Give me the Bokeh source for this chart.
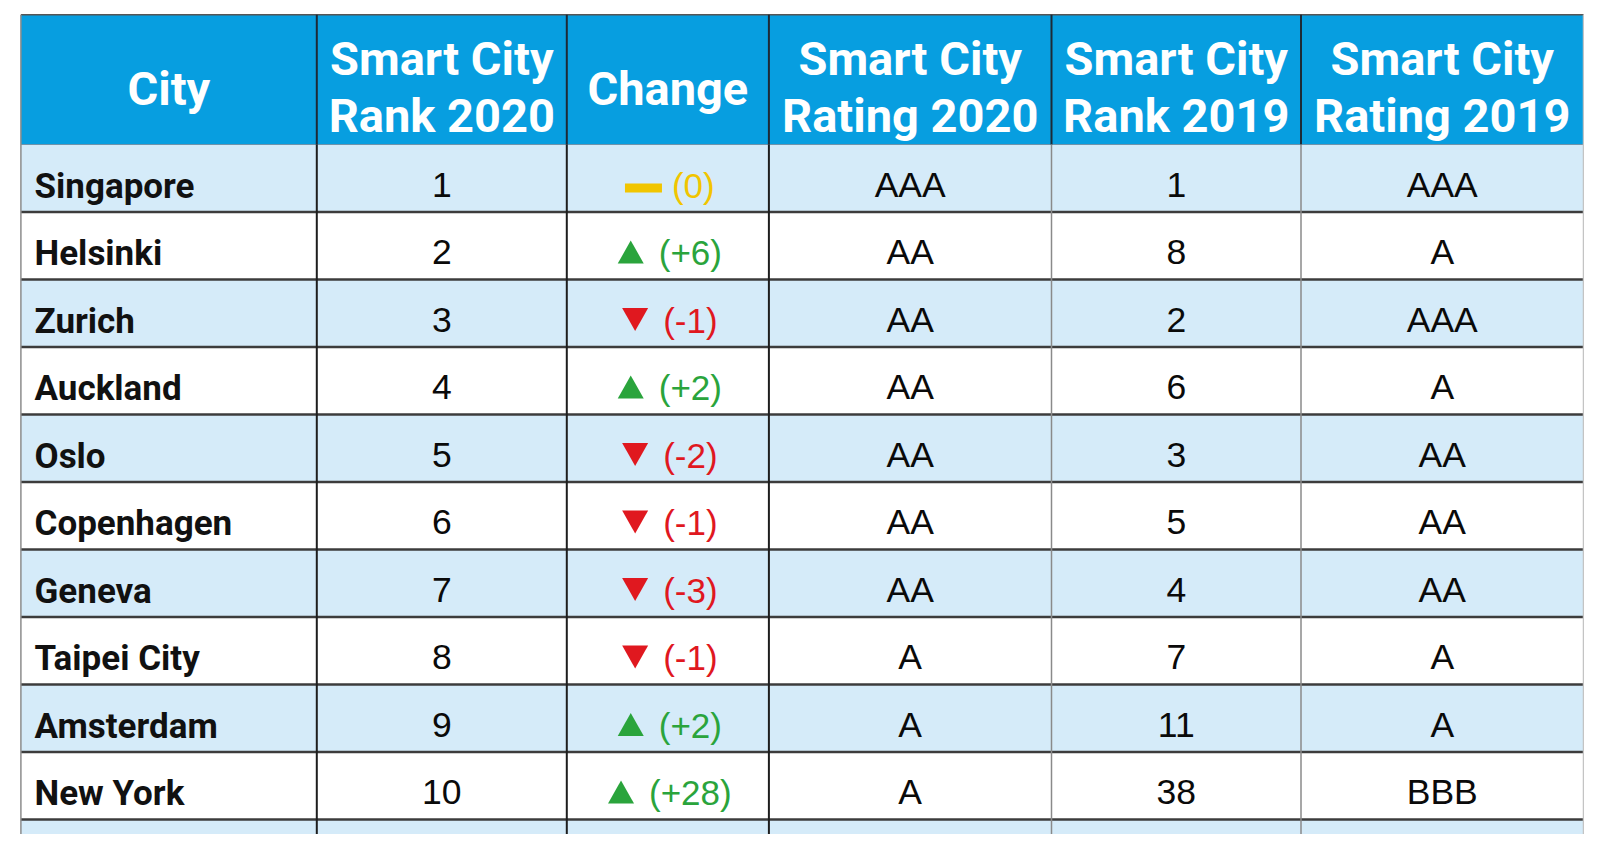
from bokeh.plotting import figure
from bokeh.models import Range1d
from bokeh.embed import file_html
from bokeh.resources import INLINE
from bokeh.core.properties import value

# ---------------- data ----------------
headers = ["City", "Smart City\nRank 2020", "Change", "Smart City\nRating 2020",
           "Smart City\nRank 2019", "Smart City\nRating 2019"]
cities = ["Singapore", "Helsinki", "Zurich", "Auckland", "Oslo", "Copenhagen",
          "Geneva", "Taipei City", "Amsterdam", "New York"]
rank_2020 = [1, 2, 3, 4, 5, 6, 7, 8, 9, 10]
change = [0, 6, -1, 2, -2, -1, -3, -1, 2, 28]
rating_2020 = ["AAA", "AA", "AA", "AA", "AA", "AA", "AA", "A", "A", "A"]
rank_2019 = [1, 8, 2, 6, 3, 5, 4, 7, 11, 38]
rating_2019 = ["AAA", "A", "AAA", "A", "AA", "AA", "AA", "A", "A", "BBB"]

# ---------------- layout / style ----------------
W, H = 1584, 839
col_edges = [20.4, 316.3, 566.3, 768.4, 1051.0, 1300.5, 1583.0]
table_top = 14.3
header_bottom = 144.0
row_h = 67.5
partial_bottom = 833.5

HEADER_BLUE = "#079ee0"
LIGHT_BLUE = "#d5ebf9"
GREEN = "#2aa43c"
RED = "#e0181f"
YELLOW = "#f1c500"

p = figure(width=W, height=H, x_range=Range1d(0, W), y_range=Range1d(H, 0),
           output_backend="svg", toolbar_location=None, x_axis_type=None,
           y_axis_type=None, min_border=0, outline_line_color=None,
           background_fill_color="white", border_fill_color="white")

n = len(cities)
centers = [(col_edges[i] + col_edges[i + 1]) / 2 for i in range(len(col_edges) - 1)]
left, right = col_edges[0], col_edges[-1]

# row backgrounds (incl. the cut-off 11th row)
tops, bots, fills = [], [], []
for i in range(n + 1):
    t = header_bottom + i * row_h
    tops.append(t)
    bots.append(min(t + row_h, partial_bottom))
    fills.append(LIGHT_BLUE if i % 2 == 0 else "white")
p.quad(left=left, right=right, top=tops, bottom=bots, fill_color=fills, line_color=None)

# header
p.quad(left=left, right=right, top=table_top, bottom=header_bottom,
       fill_color=HEADER_BLUE, line_color=None)

# horizontal lines between rows
hy = [header_bottom + (i + 1) * row_h for i in range(n)]
p.segment(x0=left, x1=right, y0=hy, y1=hy, line_color="#3c3c3c", line_width=2.5)
p.segment(x0=left, x1=right, y0=header_bottom, y1=header_bottom, line_color="#6f93ab", line_width=1.2)
p.segment(x0=left, x1=right, y0=table_top, y1=table_top, line_color="#555555", line_width=1.5)

# vertical lines
inner = col_edges[1:-1]
p.segment(x0=inner, x1=inner, y0=table_top, y1=header_bottom, line_color="#1d2a36", line_width=2)
body_cols = ["#1e1e1e", "#1e1e1e", "#1e1e1e", "#8a8a8a", "#8a8a8a"]
body_w = [2, 2, 2, 1.5, 1.5]
p.segment(x0=inner, x1=inner, y0=header_bottom, y1=partial_bottom,
          line_color=body_cols, line_width=body_w)
p.segment(x0=left, x1=left, y0=table_top, y1=partial_bottom, line_color="#8c8c8c", line_width=1.5)
p.segment(x0=right, x1=right, y0=table_top, y1=partial_bottom, line_color="#c4c4c4", line_width=1.5)

# header text
hx, hy_, ht = [], [], []
for c, h in zip(centers, headers):
    parts = h.split("\n")
    if len(parts) == 1:
        hx.append(c); hy_.append(88); ht.append(parts[0])
    else:
        hx += [c, c]; hy_ += [58, 115]; ht += parts
p.text(x=hx, y=hy_, text=ht, text_color="white", text_font=value("Roboto"),
       text_font_style="bold", text_font_size="47px", text_align="center",
       text_baseline="middle")

# body text
row_tops = [header_bottom + i * row_h for i in range(n)]
p.text(x=[34.0] * n, y=[t + 41.5 for t in row_tops], text=cities, text_color="#111111",
       text_font=value("Roboto"), text_font_style="bold", text_font_size="35px",
       text_align="left", text_baseline="middle")

vx, vy, vt = [], [], []
for col, vals in ((1, rank_2020), (3, rating_2020), (4, rank_2019), (5, rating_2019)):
    for t, v in zip(row_tops, vals):
        vx.append(centers[col]); vy.append(t + 40); vt.append(str(v))
p.text(x=vx, y=vy, text=vt, text_color="#0a0a0a", text_font=value("Liberation Sans"),
       text_font_size="35.5px", text_align="center", text_baseline="middle")

# change column: marker + text
cw = {"(": .333, ")": .333, "+": .584, "-": .333}
FS = 35
gc = centers[2] + 2
tri_xs, tri_ys, tri_col = [], [], []
dash_l, dash_r, dash_t, dash_b = [], [], [], []
cx, cy, ct, ccol = [], [], [], []
for t, d in zip(row_tops, change):
    lab = "(0)" if d == 0 else ("(+%d)" % d if d > 0 else "(%d)" % d)
    tw = sum(cw.get(ch, .556) for ch in lab) * FS
    if d == 0:
        mw, gap, col = 37, 10, YELLOW
    else:
        mw, gap, col = 26, 15, (GREEN if d > 0 else RED)
    x0 = gc - (mw + gap + tw) / 2
    if d == 0:
        dash_l.append(x0); dash_r.append(x0 + mw)
        dash_t.append(t + 39); dash_b.append(t + 48)
    elif d > 0:
        tri_xs.append([x0, x0 + mw, x0 + mw / 2])
        tri_ys.append([t + 51.5, t + 51.5, t + 28.5])
        tri_col.append(col)
    else:
        tri_xs.append([x0, x0 + mw, x0 + mw / 2])
        tri_ys.append([t + 28.5, t + 28.5, t + 51.5])
        tri_col.append(col)
    cx.append(x0 + mw + gap); cy.append(t + 40.5); ct.append(lab); ccol.append(col)

p.patches(xs=tri_xs, ys=tri_ys, fill_color=tri_col, line_color=None)
p.quad(left=dash_l, right=dash_r, top=dash_t, bottom=dash_b, fill_color=YELLOW, line_color=None)
p.text(x=cx, y=cy, text=ct, text_color=ccol, text_font=value("Liberation Sans"),
       text_font_size="35px", text_align="left", text_baseline="middle")

open("out.html", "w").write(file_html(p, INLINE))
